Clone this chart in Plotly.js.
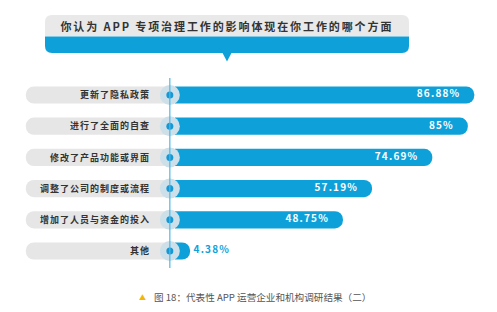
<!DOCTYPE html>
<html><head><meta charset="utf-8">
<script src="https://cdn.plot.ly/plotly-3.0.1.min.js"></script>
<style>
html,body{margin:0;padding:0;background:#fff;}
#chart .ytick text{letter-spacing:1px;}
#chart .scatterlayer .textpoint text{letter-spacing:1.2px;}
#chart .annotation[data-index="0"] text{letter-spacing:1.9px;}
</style>
</head><body>
<div id="chart" style="width:497px;height:312px;"></div>
<script>
const categories = ['更新了隐私政策','进行了全面的自查','修改了产品功能或界面','调整了公司的制度或流程','增加了人员与资金的投入','其他'];
const values = [86.88, 85, 74.69, 57.19, 48.75, 4.38];
const valueLabels = values.map(v => v + '%');
const titleText = '你认为 APP 专项治理工作的影响体现在你工作的哪个方面';
const captionText = '图 18：代表性 APP 运营企业和机构调研结果（二）';

const W = 497, H = 312;
const FONT = '"Noto Sans CJK SC", "Noto Sans", sans-serif';
const BLUE = '#0ea1d9';
const GRAY = '#e6e6e6';
const LINE_X = -1.5;      // axis position of the circle / divider line
const PILL_START = -43.3; // where the grey label pill begins (axis units)
const NB = '\u00a0';
const inside = values.map(v => v > 20);

const px = x => x / W;
const py = y => 1 - y / H;

function roundRect(x0, y0, x1, y1, rt, rb) {
  let p = `M${px(x0)},${py(y0 + rt)} Q${px(x0)},${py(y0)} ${px(x0 + rt)},${py(y0)} L${px(x1 - rt)},${py(y0)} Q${px(x1)},${py(y0)} ${px(x1)},${py(y0 + rt)}`;
  p += ` L${px(x1)},${py(y1 - rb)} Q${px(x1)},${py(y1)} ${px(x1 - rb)},${py(y1)} L${px(x0 + rb)},${py(y1)} Q${px(x0)},${py(y1)} ${px(x0)},${py(y1 - rb)} Z`;
  return p;
}

const traces = [
  {
    type: 'bar', orientation: 'h', y: categories,
    x: categories.map(() => -PILL_START), base: categories.map(() => PILL_START),
    marker: {color: GRAY, cornerradius: 9}, width: 0.55,
    hoverinfo: 'skip', showlegend: false
  },
  {
    type: 'bar', orientation: 'h', y: categories, x: values,
    marker: {color: BLUE, cornerradius: 9}, width: 0.55,
    hoverinfo: 'skip', showlegend: false
  },
  {
    type: 'scatter', mode: 'markers', y: categories, x: categories.map(() => LINE_X),
    marker: {size: 20, color: '#cde0ea'}, hoverinfo: 'skip', showlegend: false
  },
  {
    type: 'scatter', mode: 'markers', y: categories, x: categories.map(() => LINE_X),
    marker: {size: 7, color: '#1698d4'}, hoverinfo: 'skip', showlegend: false
  },
  {
    type: 'scatter', mode: 'text', y: categories, x: values,
    text: valueLabels.map((t, i) => inside[i] ? t + NB + NB + NB + NB : NB + t),
    textposition: inside.map(b => b ? 'middle left' : 'middle right'),
    textfont: {family: FONT, size: 10, color: inside.map(b => b ? '#ffffff' : BLUE), weight: 'bold'},
    hoverinfo: 'skip', showlegend: false, cliponaxis: false
  }
];

const layout = {
  width: W, height: H,
  margin: {l: 0, r: 0, t: 0, b: 0, pad: 0},
  paper_bgcolor: '#ffffff', plot_bgcolor: 'rgba(0,0,0,0)',
  barmode: 'overlay',
  font: {family: FONT},
  xaxis: {range: [-50.8, 93.47], visible: false, fixedrange: true, domain: [0, 1]},
  yaxis: {
    type: 'category', categoryorder: 'array', categoryarray: categories,
    range: [5.5, -0.5], domain: [(H - 266.6) / H, (H - 79.4) / H],
    anchor: 'free', position: 150 / W, automargin: false,
    showgrid: false, zeroline: false, showline: false, ticks: '',
    tickfont: {family: FONT, size: 9, color: '#333333', weight: 'bold'}
  },
  shapes: [
    {type: 'path', xref: 'paper', yref: 'paper', path: roundRect(45, 15, 409, 36.5, 7, 0), fillcolor: '#e9e9e9', line: {width: 0}, layer: 'below'},
    {type: 'path', xref: 'paper', yref: 'paper', path: roundRect(45, 36.5, 409, 53, 0, 7), fillcolor: BLUE, line: {width: 0}, layer: 'below'},
    {type: 'path', xref: 'paper', yref: 'paper', path: `M${px(222)},${py(52)} L${px(232)},${py(52)} L${px(227)},${py(61.5)} Z`, fillcolor: BLUE, line: {width: 0}, layer: 'below'},
    {type: 'line', xref: 'x', yref: 'paper', x0: LINE_X, x1: LINE_X, y0: py(268), y1: py(78), line: {color: '#4fb6e3', width: 1.2}, layer: 'above'}
  ],
  annotations: [
    {xref: 'paper', yref: 'paper', x: px(227), y: py(26), text: titleText, showarrow: false, xanchor: 'center', yanchor: 'middle',
     font: {family: FONT, size: 11, color: '#333333', weight: 'bold'}},
    {xref: 'paper', yref: 'paper', x: px(142), y: py(297), text: '▲', showarrow: false, xanchor: 'center', yanchor: 'middle',
     font: {family: FONT, size: 7, color: '#f2b705'}},
    {xref: 'paper', yref: 'paper', x: px(152), y: py(297), text: captionText, showarrow: false, xanchor: 'left', yanchor: 'middle',
     font: {family: FONT, size: 9.6, color: '#555555'}}
  ]
};

Plotly.newPlot('chart', traces, layout, {displayModeBar: false, staticPlot: true});
</script>
</body></html>
